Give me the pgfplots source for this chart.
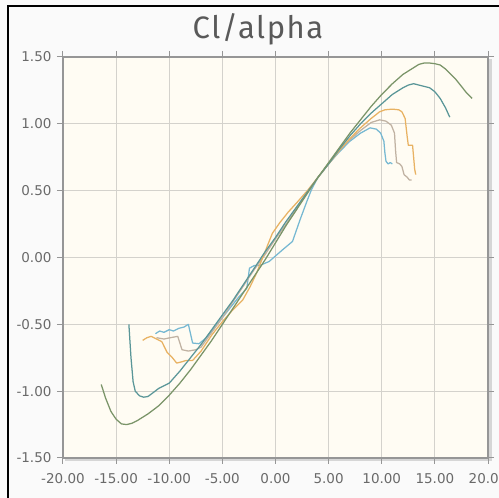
\documentclass[border=0pt]{standalone}
\usepackage{pgfplots}
\pgfplotsset{compat=1.18}
\usepackage{fontspec}
\setmainfont{DejaVu Sans}
\newfontfamily\titlefont[LetterSpace=5]{Fira Sans}

\definecolor{cgreen}{RGB}{122,148,104}
\definecolor{cteal}{RGB}{90,150,152}
\definecolor{corange}{RGB}{232,178,98}
\definecolor{cgrey}{RGB}{192,178,162}
\definecolor{cblue}{RGB}{118,184,210}
\definecolor{bgcream}{RGB}{255,252,243}
\definecolor{framegrey}{RGB}{150,150,150}
\definecolor{gridgrey}{RGB}{212,210,204}
\definecolor{labelgrey}{RGB}{105,105,105}

\begin{document}
\begin{tikzpicture}
\useasboundingbox (0,0) rectangle (499pt,498pt);
\fill[white!98!black] (0,0) rectangle (499pt,498pt);
\draw[black, line width=2pt] (8pt,0) -- (8pt,492pt) -- (499pt,492pt);
\node[anchor=base, text=labelgrey!85!black, font=\titlefont\fontsize{31}{33}\selectfont] at (258pt,459pt) {Cl/alpha};
% frame shadow
\fill[black!16] (65pt,37pt) rectangle (491.5pt,439pt);

\begin{axis}[
    at={(63pt,40pt)}, anchor=south west,
    scale only axis, width=425pt, height=401pt,
    xmin=-20, xmax=20, ymin=-1.5, ymax=1.5,
    xtick={-20,-15,...,20},
    ytick={-1.5,-1,...,1.5},
    grid=major,
    major grid style={gridgrey, line width=1pt},
    axis background/.style={fill=bgcream},
    axis line style={framegrey, line width=1.8pt},
    tick align=outside,
    major tick length=6pt,
    tick style={framegrey, line width=1pt},
    ticklabel style={font=\fontsize{13.5}{15}\selectfont, text=labelgrey},
    xticklabel style={yshift=-6pt},
    yticklabel style={xshift=-2pt},
    /pgf/number format/fixed,
    /pgf/number format/fixed zerofill,
    /pgf/number format/precision=2,
    /pgf/number format/assume math mode=true,
    every axis plot/.append style={line width=1.25pt, line join=round, no markers},
]
% light blue
\addplot[cblue] coordinates {
(-11.3,-0.57) (-10.9,-0.55) (-10.5,-0.56) (-10.0,-0.54) (-9.6,-0.55) (-9.1,-0.53)
(-8.6,-0.52) (-8.2,-0.50) (-8.0,-0.57) (-7.8,-0.64) (-7.2,-0.645) (-6.5,-0.60)
(-5.5,-0.50) (-4.5,-0.40) (-3.5,-0.30) (-2.7,-0.23) (-2.45,-0.08) (-2.0,-0.06)
(-1.5,-0.06) (-0.6,-0.03) (0.7,0.06) (1.6,0.12) (2.3,0.28) (3.0,0.43) (3.4,0.51)
(4,0.60) (5,0.70) (6,0.79) (7,0.87) (8,0.93) (8.9,0.97) (9.5,0.96) (9.9,0.93)
(10.2,0.87) (10.3,0.78) (10.4,0.72) (10.6,0.70) (10.8,0.71) (11.0,0.70)
};
% grey
\addplot[cgrey] coordinates {
(-11.2,-0.60) (-10.5,-0.61) (-9.9,-0.60) (-9.2,-0.59) (-8.8,-0.69) (-8.2,-0.70)
(-7.5,-0.69) (-7.0,-0.67) (-6,-0.56) (-5,-0.45) (-4,-0.33) (-3,-0.21) (-2,-0.09)
(-1,0.02) (0,0.14) (1,0.25) (2,0.37) (3,0.49) (4,0.60) (5,0.70) (6,0.80) (7,0.88)
(8,0.95) (9,1.01) (9.8,1.03) (10.4,1.02) (10.9,0.99) (11.2,0.93) (11.3,0.80)
(11.4,0.71) (11.7,0.70) (11.9,0.68) (12.1,0.62) (12.4,0.60) (12.6,0.58) (12.8,0.58)
};
% orange
\addplot[corange] coordinates {
(-12.5,-0.62) (-12.1,-0.60) (-11.7,-0.59) (-11.2,-0.61) (-10.7,-0.63) (-10.2,-0.71)
(-9.7,-0.75) (-9.3,-0.79) (-8.8,-0.78) (-8.4,-0.77) (-7.8,-0.77) (-7.0,-0.70)
(-6.0,-0.58) (-5.0,-0.48) (-4.0,-0.39) (-3.1,-0.32) (-2.4,-0.22) (-1.8,-0.12)
(-1.2,0.0) (-0.3,0.18) (0.4,0.26) (1.2,0.34) (2.0,0.41) (3.0,0.50) (4.0,0.60)
(5.0,0.70) (6,0.80) (7,0.89) (8,0.97) (9,1.04) (9.8,1.09) (10.3,1.105) (11,1.11)
(11.6,1.105) (11.9,1.09) (12.2,1.04) (12.4,0.90) (12.5,0.84) (12.9,0.84)
(13.0,0.75) (13.1,0.66) (13.2,0.62)
};
% teal
\addplot[cteal] coordinates {
(-13.8,-0.50) (-13.6,-0.75) (-13.4,-0.93) (-13.2,-1.00) (-12.8,-1.035) (-12.4,-1.045)
(-12.0,-1.04) (-11.5,-1.01) (-11.0,-0.98) (-10,-0.94) (-9,-0.85) (-8,-0.75)
(-7,-0.65) (-6,-0.54) (-5,-0.43) (-4,-0.32) (-3,-0.20) (-2,-0.08) (-1,0.04)
(0,0.15) (1,0.27) (2,0.38) (3,0.49) (4,0.60) (5,0.70) (6,0.81) (7,0.91) (8,1.00)
(9,1.08) (10,1.15) (11,1.22) (12,1.27) (12.5,1.29) (13,1.30) (13.5,1.29) (14,1.28)
(14.5,1.27) (15,1.24) (15.5,1.19) (16,1.12) (16.4,1.05)
};
% green
\addplot[cgreen] coordinates {
(-16.4,-0.95) (-16.0,-1.05) (-15.5,-1.15) (-15.0,-1.21) (-14.5,-1.245) (-14.0,-1.25)
(-13.5,-1.24) (-13.0,-1.22) (-12,-1.17) (-11,-1.11) (-10,-1.03) (-9,-0.94)
(-8,-0.84) (-7,-0.73) (-6,-0.62) (-5,-0.50) (-4,-0.38) (-3,-0.26) (-2,-0.14)
(-1,-0.02) (0,0.11) (1,0.24) (2,0.36) (3,0.48) (4,0.60) (5,0.71) (6,0.82) (7,0.93)
(8,1.03) (9,1.13) (10,1.22) (11,1.30) (12,1.37) (13,1.42) (13.5,1.445) (14,1.455)
(14.5,1.455) (15,1.45) (15.5,1.44) (16,1.41) (16.5,1.37) (17,1.33) (17.5,1.28)
(18,1.23) (18.5,1.19)
};
\end{axis}
\end{tikzpicture}
\end{document}
